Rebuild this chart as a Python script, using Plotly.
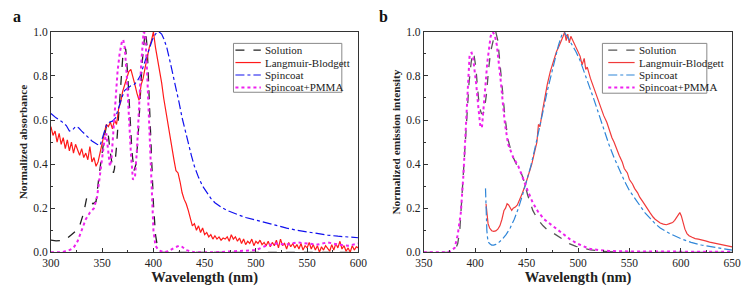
import plotly.graph_objects as go
from plotly.subplots import make_subplots

# ---------------- Panel a: absorbance ----------------
a_sol_x = [300, 305, 310, 315, 320, 325, 328, 332, 335, 338, 341, 344, 347, 350, 352, 354, 356, 358, 360, 361,
           362, 364, 366, 368, 370, 372, 373, 375, 377, 379, 381, 383, 385, 387, 389, 391, 392.5, 394, 396,
           398, 400, 402, 404, 406, 408, 412, 420, 440, 600]
a_sol_y = [0.055, 0.052, 0.053, 0.06, 0.08, 0.10, 0.12, 0.18, 0.25, 0.24, 0.22, 0.23, 0.35, 0.46, 0.52, 0.57, 0.53,
           0.45, 0.38, 0.36, 0.38, 0.48, 0.62, 0.76, 0.88, 0.93, 0.92, 0.80, 0.62, 0.46, 0.37, 0.40, 0.52, 0.70,
           0.86, 0.96, 1.0, 0.92, 0.72, 0.45, 0.22, 0.08, 0.025, 0.008, 0.0, 0.0, 0.0, 0.0, 0.0]

a_lb_x = list(range(300, 602, 2))
a_lb_y = [0.57, 0.53, 0.55, 0.50, 0.54, 0.49, 0.52, 0.47, 0.51, 0.46, 0.50, 0.45, 0.49, 0.46, 0.44, 0.47, 0.43,
          0.45, 0.42, 0.48, 0.41, 0.43, 0.39, 0.41, 0.45, 0.50, 0.53, 0.58, 0.57, 0.59, 0.56, 0.60, 0.58, 0.65,
          0.68, 0.73, 0.76, 0.79, 0.82, 0.83, 0.80, 0.76, 0.72, 0.69, 0.76, 0.79, 0.84, 0.89, 0.93, 0.96, 1.0,
          0.93, 0.88, 0.82, 0.77, 0.70, 0.64, 0.58, 0.52, 0.47, 0.42, 0.37, 0.36, 0.32, 0.27, 0.24, 0.22, 0.19,
          0.15, 0.12, 0.13, 0.10, 0.12, 0.09, 0.11, 0.08, 0.09, 0.07, 0.08, 0.06, 0.075, 0.06, 0.07, 0.055,
          0.065, 0.06, 0.07, 0.05, 0.08, 0.06, 0.07, 0.05, 0.065, 0.04, 0.06, 0.035, 0.05, 0.04, 0.06, 0.03,
          0.05, 0.04, 0.055, 0.035, 0.045, 0.03, 0.05, 0.025, 0.045, 0.03, 0.055, 0.02, 0.06, 0.03, 0.04, 0.015,
          0.045, 0.025, 0.04, 0.02, 0.035, 0.015, 0.04, 0.01, 0.03, 0.02, 0.045, 0.015, 0.035, 0.01, 0.03, 0.0,
          0.025, 0.01, 0.03, 0.015, 0.005, 0.035, 0.01, 0.04, 0.02, 0.05, 0.015, 0.03, 0.005, 0.02, 0.0, 0.03,
          0.01, 0.025, 0.02]

a_spin_x = [300, 305, 310, 315, 318, 321, 324, 327, 330, 335, 340, 345, 348, 351, 354, 357, 360, 363, 366, 369,
            372, 375, 378, 381, 384, 387, 390, 393, 396, 399, 402, 404, 406, 408, 410, 413, 416, 419, 422, 425,
            428, 431, 434, 437, 440, 444, 448, 452, 456, 460, 466, 472, 478, 484, 490, 498, 506, 514, 522, 530,
            540, 550, 560, 570, 580, 590, 600]
a_spin_y = [0.63, 0.61, 0.595, 0.575, 0.55, 0.555, 0.57, 0.565, 0.55, 0.525, 0.505, 0.49, 0.485, 0.53, 0.575,
            0.59, 0.595, 0.61, 0.66, 0.70, 0.735, 0.745, 0.755, 0.76, 0.775, 0.80, 0.84, 0.885, 0.93, 0.965, 0.99,
            1.0, 0.998, 0.99, 0.97, 0.93, 0.87, 0.81, 0.74, 0.68, 0.61, 0.55, 0.49, 0.44, 0.39, 0.34, 0.30, 0.27,
            0.245, 0.225, 0.205, 0.19, 0.178, 0.168, 0.158, 0.148, 0.138, 0.13, 0.12, 0.11, 0.10, 0.092, 0.085,
            0.078, 0.073, 0.069, 0.066]

a_pmma_x = [300, 310, 314, 318, 322, 326, 330, 334, 338, 342, 345, 347, 350, 352, 354, 356, 357.5, 359, 361, 363,
            365, 367, 369, 370.5, 372, 374, 376, 378, 380, 382, 384, 386, 388, 390.4, 392, 394, 396, 398, 400,
            402, 405, 410, 415, 420, 425, 428, 432, 440, 460, 480, 500, 510, 520, 530, 540, 550, 560, 570, 580,
            590, 600]
a_pmma_y = [0.0, 0.0, 0.005, 0.01, 0.02, 0.05, 0.10, 0.15, 0.18, 0.20, 0.25, 0.32, 0.43, 0.50, 0.54, 0.46, 0.39,
            0.42, 0.55, 0.70, 0.82, 0.90, 0.95, 0.965, 0.93, 0.80, 0.62, 0.45, 0.33, 0.34, 0.47, 0.66, 0.85, 1.0,
            0.99, 0.80, 0.55, 0.30, 0.10, 0.03, 0.01, 0.0, 0.005, 0.02, 0.03, 0.025, 0.01, 0.0, 0.0, 0.005, 0.01,
            0.03, 0.04, 0.035, 0.045, 0.04, 0.035, 0.045, 0.035, 0.03, 0.04]

# ---------------- Panel b: emission ----------------
b_sol_x = [350, 375, 380, 383, 385, 387, 389.6, 392, 394, 396, 397.5, 399, 400.6, 402, 404, 406, 407.5, 409, 411,
           413, 415, 418, 420, 422, 424, 426, 429, 432, 436, 440, 444, 447, 451, 456, 461, 466, 470, 475, 480,
           486, 492, 498, 505, 512, 524, 540, 650]
b_sol_y = [0.0, 0.0, 0.005, 0.04, 0.10, 0.25, 0.465, 0.65, 0.77, 0.86, 0.905, 0.89, 0.84, 0.76, 0.66, 0.63, 0.625,
           0.65, 0.72, 0.83, 0.91, 0.97, 1.0, 0.96, 0.86, 0.75, 0.61, 0.51, 0.44, 0.40, 0.37, 0.33, 0.26, 0.19,
           0.148, 0.12, 0.103, 0.09, 0.074, 0.055, 0.038, 0.027, 0.018, 0.011, 0.005, 0.0, 0.0]

b_lb_x = [410.5, 411.5, 412.5, 414, 416, 418, 420, 422, 424, 426, 428, 429.5, 431, 432.5, 434, 435.5, 437, 439,
          441, 443, 446, 449, 452, 455, 458, 460, 461.5, 463, 465, 467, 470, 473, 476, 479, 482, 484, 485.5,
          487, 488.5, 490, 491.5, 493, 495, 497, 500, 502, 504, 506, 507.5, 509, 512, 515, 518, 520, 522, 525,
          528, 530, 533, 535, 538, 540, 543, 545, 548, 550, 553, 555, 558, 560, 563, 565, 568, 570, 573, 575,
          578, 580, 583, 586, 589, 592, 594, 596, 597.5, 599, 600.5, 602, 604, 606, 608, 611, 614, 617, 620,
          624, 628, 632, 636, 640, 645, 650]
b_lb_y = [0.22, 0.16, 0.13, 0.11, 0.098, 0.095, 0.097, 0.105, 0.12, 0.15, 0.19, 0.2, 0.22, 0.215, 0.2, 0.19,
          0.2, 0.205, 0.215, 0.235, 0.27, 0.31, 0.35, 0.40, 0.46, 0.5, 0.58, 0.57, 0.63, 0.69, 0.76, 0.82, 0.87,
          0.91, 0.94, 0.96, 0.98, 1.0, 0.96, 0.99, 0.95, 0.98, 0.96, 0.94, 0.91, 0.89, 0.85, 0.88, 0.83, 0.84,
          0.79, 0.75, 0.71, 0.68, 0.66, 0.62, 0.59, 0.56, 0.52, 0.5, 0.46, 0.44, 0.41, 0.38, 0.36, 0.33, 0.31,
          0.29, 0.27, 0.25, 0.23, 0.215, 0.19, 0.18, 0.16, 0.15, 0.14, 0.133, 0.128, 0.125, 0.13, 0.135, 0.145,
          0.16, 0.175, 0.18, 0.165, 0.135, 0.105, 0.085, 0.075, 0.068, 0.062, 0.06, 0.058, 0.052, 0.046, 0.042,
          0.038, 0.034, 0.03, 0.025]

b_spin_x = [410, 410.6, 411.3, 412, 413, 414.5, 416, 418, 420, 423, 426, 430, 434, 438, 442, 446, 450, 454, 458,
            462, 466, 470, 474, 478, 481, 484.5, 487, 490, 494, 498, 502, 506, 510, 515, 520, 525, 530, 535, 540,
            545, 550, 555, 560, 565, 570, 575, 580, 590, 600, 610, 620, 635, 650]
b_spin_y = [0.29, 0.18, 0.1, 0.065, 0.045, 0.037, 0.033, 0.033, 0.036, 0.045, 0.058, 0.08, 0.11, 0.15, 0.2, 0.26,
            0.32, 0.39, 0.47, 0.55, 0.64, 0.73, 0.81, 0.89, 0.94, 0.99, 0.995, 0.975, 0.945, 0.91, 0.87, 0.82,
            0.77, 0.70, 0.63, 0.555, 0.49, 0.43, 0.375, 0.325, 0.28, 0.245, 0.21, 0.18, 0.155, 0.13, 0.11, 0.083,
            0.062, 0.045, 0.033, 0.02, 0.01]

b_pmma_x = [350, 372, 376, 380, 383, 386, 388.5, 391, 393, 394.6, 396.5, 398, 399.5, 401, 403, 405, 406.5, 408.5,
            410, 411.7, 413.5, 415, 417, 419, 421, 423, 425, 427, 429, 432, 437, 442, 446.5, 451, 456, 461, 467,
            475, 481, 486, 492, 499, 505, 511, 520, 530, 550, 575, 600, 625, 650]
b_pmma_y = [0.0, 0.0, 0.005, 0.02, 0.08, 0.18, 0.35, 0.55, 0.76, 0.9, 0.905, 0.88, 0.83, 0.76, 0.66, 0.57, 0.565,
            0.66, 0.76, 0.86, 0.94, 0.98, 1.0, 0.985, 0.94, 0.86, 0.77, 0.67, 0.58, 0.49, 0.43, 0.39, 0.33, 0.28,
            0.225, 0.185, 0.15, 0.12, 0.1, 0.08, 0.06, 0.04, 0.027, 0.016, 0.01, 0.006, 0.004, 0.003, 0.002,
            0.002, 0.002]

names = ["Solution", "Langmuir-Blodgett", "Spincoat", "Spincoat+PMMA"]
x_ticks_a = [300, 350, 400, 450, 500, 550, 600]
x_ticks_b = [350, 400, 450, 500, 550, 600, 650]
y_ticks = [0.0, 0.2, 0.4, 0.6, 0.8, 1.0]
y_tick_labels = ["0.0", "0.2", "0.4", "0.6", "0.8", "1.0"]

FONT = "Liberation Serif, Times New Roman, serif"
W, H = 750, 288

fig = make_subplots(rows=1, cols=2, horizontal_spacing=0.09)

col_a = dict(sol="#222222", lb="#ff1a1a", spin="#1010ee", pmma="#ee22ee")
col_b = dict(sol="#555555", lb="#f03a3a", spin="#2f86d8", pmma="#ee22ee")
keys = ["sol", "lb", "spin", "pmma"]
dashes = ["dash", "solid", "dashdot", "dot"]
widths = [1.3, 1.2, 1.2, 2.0]

def add_panel(col, data, cols):
    for i, (xs, ys) in enumerate(data):
        fig.add_trace(go.Scatter(x=xs, y=ys, name=names[i], mode="lines", showlegend=False,
                                 line=dict(color=cols[keys[i]], dash=dashes[i], width=widths[i])),
                      row=1, col=col)

add_panel(1, [(a_sol_x, a_sol_y), (a_lb_x, a_lb_y), (a_spin_x, a_spin_y), (a_pmma_x, a_pmma_y)], col_a)
add_panel(2, [(b_sol_x, b_sol_y), (b_lb_x, b_lb_y), (b_spin_x, b_spin_y), (b_pmma_x, b_pmma_y)], col_b)

axis_common = dict(showline=True, linecolor="#333", linewidth=1, mirror=True, ticks="inside", ticklen=4,
                   tickcolor="#333", showgrid=False, zeroline=False,
                   tickfont=dict(family=FONT, size=11.5, color="#222"),
                   minor=dict(ticks="inside", ticklen=2, tickcolor="#333"))

fig.update_xaxes(**axis_common)
fig.update_yaxes(**axis_common)

xt_font = dict(family=FONT, size=14.5, color="#222")
yt_font = dict(family=FONT, size=11.3, color="#222")
fig.update_xaxes(range=[300, 600], tickvals=x_ticks_a, minor_dtick=25, domain=[0.0573, 0.4773],
                 title=dict(text="<b>Wavelength (nm)</b>", font=xt_font, standoff=1), row=1, col=1)
fig.update_xaxes(range=[350, 650], tickvals=x_ticks_b, minor_dtick=25, domain=[0.5667, 0.988],
                 title=dict(text="<b>Wavelength (nm)</b>", font=xt_font, standoff=1), row=1, col=2)
fig.update_yaxes(range=[0, 1.0], tickvals=y_ticks, ticktext=y_tick_labels, minor_dtick=0.1, domain=[0.1076, 0.9063],
                 title=dict(text="<b>Normalized absorbance</b>", font=yt_font, standoff=3), row=1, col=1)
fig.update_yaxes(range=[0, 1.0], tickvals=y_ticks, ticktext=y_tick_labels, minor_dtick=0.1, domain=[0.1076, 0.9063],
                 title=dict(text="<b>Normalized emission intensity</b>", font=yt_font, standoff=3), row=1, col=2)

# ---------------- compact legends (drawn as layout decorations) ----------------
shapes = []
annotations = []

def px_x(p):
    return p / W

def px_y(p):
    return 1 - p / H

def legend_box(x0, x1, y0, y1, line_x0, line_x1, text_x, rows, cols):
    shapes.append(dict(type="rect", xref="paper", yref="paper", x0=px_x(x0), x1=px_x(x1),
                       y0=px_y(y1), y1=px_y(y0), line=dict(color="#888", width=1), fillcolor="white", layer="above"))
    for i, ry in enumerate(rows):
        shapes.append(dict(type="line", xref="paper", yref="paper", x0=px_x(line_x0), x1=px_x(line_x1),
                           y0=px_y(ry), y1=px_y(ry), layer="above",
                           line=dict(color=cols[keys[i]], dash=dashes[i], width=widths[i])))
        annotations.append(dict(text=names[i], xref="paper", yref="paper", x=px_x(text_x), y=px_y(ry),
                                xanchor="left", yanchor="middle", showarrow=False,
                                font=dict(family=FONT, size=11, color="#222")))

legend_box(230, 341, 39, 90, 232, 258, 260, [46, 59, 72, 85], col_a)
legend_box(608, 715, 39, 91, 614, 641, 643, [46, 59, 72, 85], col_b)

annotations += [
    dict(text="<b>a</b>", x=0.003, y=1.0, xref="paper", yref="paper", xanchor="left", yanchor="top",
         showarrow=False, font=dict(family=FONT, size=16, color="#111")),
    dict(text="<b>b</b>", x=0.503, y=1.0, xref="paper", yref="paper", xanchor="left", yanchor="top",
         showarrow=False, font=dict(family=FONT, size=16, color="#111")),
]

fig.update_layout(
    width=W, height=H, margin=dict(l=0, r=0, t=0, b=0),
    paper_bgcolor="white", plot_bgcolor="white",
    showlegend=False,
    shapes=shapes,
    annotations=annotations,
)

fig.write_html("out.html")
